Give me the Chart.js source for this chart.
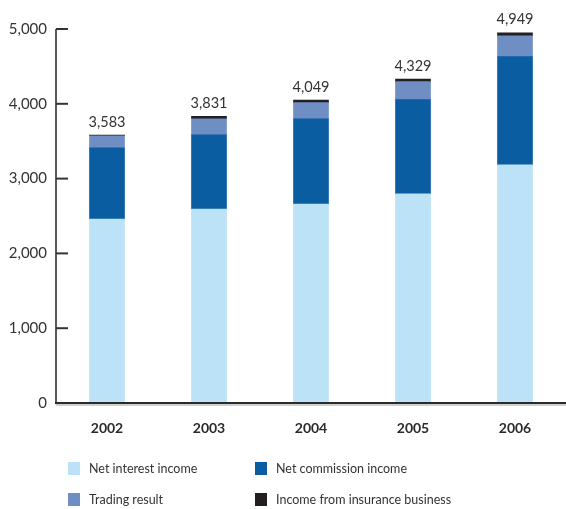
<!DOCTYPE html>
<html lang="en">
<head>
<meta charset="UTF-8">
<title>Operating income 2002-2006</title>
<script src="https://cdn.jsdelivr.net/npm/chart.js"></script>
<style>
    html, body { margin: 0; padding: 0; background: #fff; }
    #wrap { position: relative; width: 566px; height: 509px; }
    #legend { position: absolute; left: 0; top: 0; width: 566px; height: 509px; pointer-events: none;
              font-family: Lato, "DejaVu Sans", sans-serif; font-size: 12.5px; color: #333; }
    .item { position: absolute; height: 14px; line-height: 14px; white-space: nowrap; }
    .item span.sw { position: absolute; left: 0; top: 0; width: 12px; height: 13px; }
    .item span.tx { position: absolute; left: 21px; top: 0; }
</style>
</head>
<body>
<div id="wrap">
    <canvas id="chart" width="566" height="509"></canvas>
    <div id="legend"></div>
</div>
<script>
const years = ['2002', '2003', '2004', '2005', '2006'];
const netInterest = [2460, 2594, 2661, 2795, 3184];
const netCommission = [950, 992, 1139, 1260, 1447];
const tradingResult = [163, 214, 215, 241, 279];
const insurance = [10, 31, 34, 33, 39];
const yTicks = [0, 1000, 2000, 3000, 4000, 5000];

const seriesNames = ['Net interest income', 'Net commission income', 'Trading result', 'Income from insurance business'];
const seriesColors = ['#bbe2f7', '#0a5da0', '#6f8ec4', '#231f20'];
const seriesData = [netInterest, netCommission, tradingResult, insurance];

const FONT = 'Lato, "DejaVu Sans", sans-serif';

// totals above each stack
const totalLabels = {
    id: 'totalLabels',
    afterDatasetsDraw(chart) {
        const ctx = chart.ctx;
        const y = chart.scales.y;
        const bars = chart.getDatasetMeta(0).data;
        ctx.save();
        ctx.font = '14.5px ' + FONT;
        ctx.fillStyle = '#333';
        ctx.textAlign = 'center';
        ctx.textBaseline = 'middle';
        years.forEach((yr, i) => {
            const total = seriesData.reduce((s, arr) => s + arr[i], 0);
            ctx.fillText(total.toLocaleString('en-US'), bars[i].x, y.getPixelForValue(total) - 13);
        });
        ctx.restore();
    }
};

// short tick marks pointing into the plot, plus the axis lines
const axisMarks = {
    id: 'axisMarks',
    afterDraw(chart) {
        const ctx = chart.ctx;
        const area = chart.chartArea;
        const y = chart.scales.y;
        ctx.save();
        ctx.lineWidth = 2;
        ctx.strokeStyle = '#5a5a5a';
        ctx.beginPath();
        ctx.moveTo(area.left, y.getPixelForValue(5000));
        ctx.lineTo(area.left, area.bottom);
        ctx.stroke();
        ctx.strokeStyle = '#333';
        yTicks.slice(1).forEach(v => {
            const py = y.getPixelForValue(v);
            ctx.beginPath();
            ctx.moveTo(area.left, py);
            ctx.lineTo(area.left + 12, py);
            ctx.stroke();
        });
        ctx.strokeStyle = '#cfcfcf';
        ctx.beginPath();
        ctx.moveTo(area.left, area.bottom + 2);
        ctx.lineTo(chart.width, area.bottom + 2);
        ctx.stroke();
        ctx.strokeStyle = '#2b2b2b';
        ctx.beginPath();
        ctx.moveTo(area.left - 1, area.bottom);
        ctx.lineTo(chart.width, area.bottom);
        ctx.stroke();
        ctx.restore();
    }
};

new Chart(document.getElementById('chart'), {
    type: 'bar',
    data: {
        labels: years,
        datasets: seriesNames.map((name, i) => ({
            label: name,
            data: seriesData[i],
            backgroundColor: seriesColors[i],
            borderWidth: 0,
            barThickness: 35
        }))
    },
    options: {
        responsive: false,
        animation: false,
        layout: { padding: { top: 29, right: 0, bottom: 60, left: 0 } },
        plugins: { legend: { display: false }, tooltip: { enabled: false } },
        scales: {
            x: {
                stacked: true,
                grid: { display: false, drawTicks: false },
                border: { display: false },
                ticks: { padding: 17, color: '#2b2b2b', font: { family: FONT, size: 14, weight: 'bold' } },
                afterFit(scale) { scale.height = 46; }
            },
            y: {
                stacked: true,
                min: 0,
                max: 5000,
                afterBuildTicks(scale) { scale.ticks = yTicks.map(v => ({ value: v })); },
                grid: { display: false, drawTicks: false },
                border: { display: false },
                ticks: {
                    padding: 9,
                    color: '#333',
                    font: { family: FONT, size: 15 },
                    callback: v => v.toLocaleString('en-US')
                },
                afterFit(scale) { scale.width = 56; }
            }
        }
    },
    plugins: [totalLabels, axisMarks]
});

// two-column legend under the plot
const legendPos = [[68, 462], [255, 462], [68, 493], [255, 493]];
const legend = document.getElementById('legend');
seriesNames.forEach((name, i) => {
    const el = document.createElement('div');
    el.className = 'item';
    el.style.left = legendPos[i][0] + 'px';
    el.style.top = legendPos[i][1] + 'px';
    el.innerHTML = '<span class="sw" style="background:' + seriesColors[i] + '"></span><span class="tx"></span>';
    el.querySelector('.tx').textContent = name;
    legend.appendChild(el);
});
</script>
</body>
</html>
